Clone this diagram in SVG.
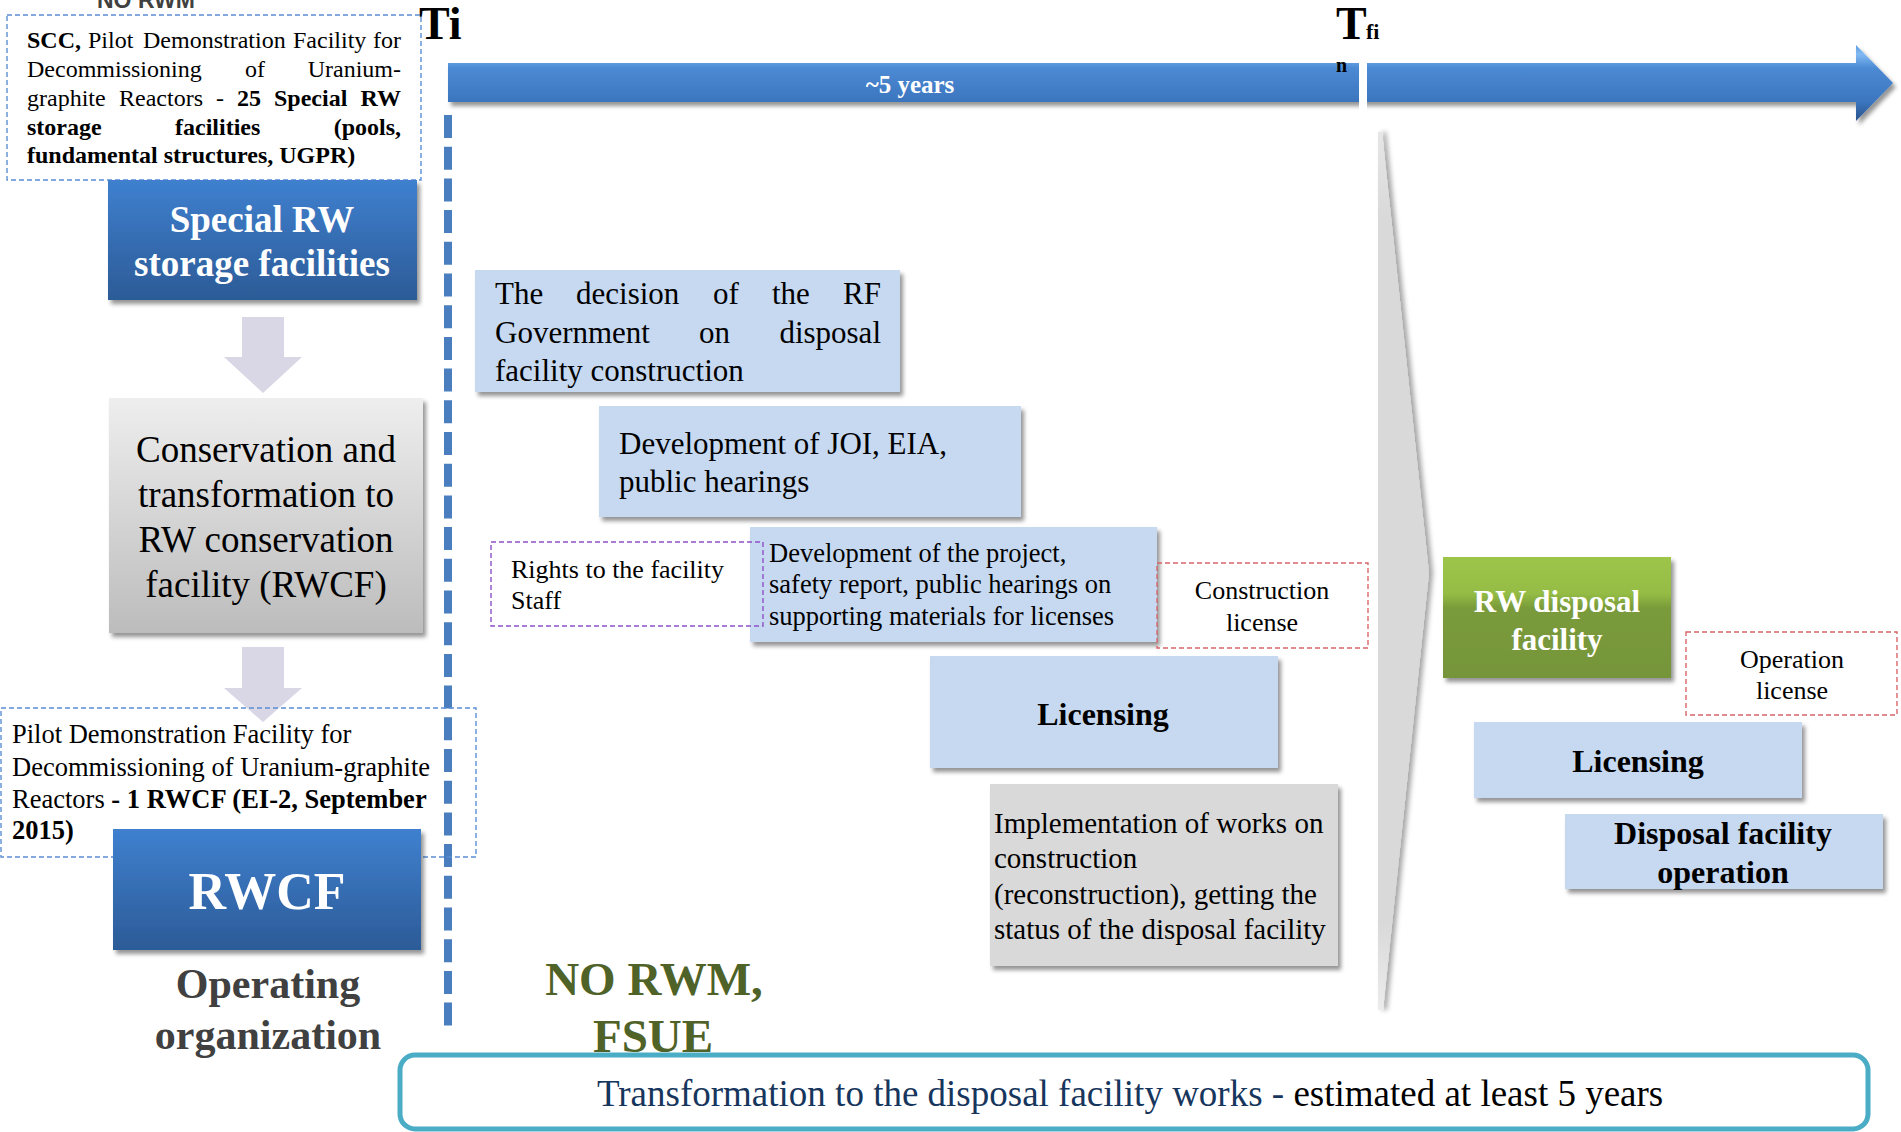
<svg xmlns="http://www.w3.org/2000/svg" width="1901" height="1132" viewBox="0 0 1901 1132">
<defs>
<style>
.s{font-family:"Liberation Serif","Times New Roman",serif}
.b{font-weight:bold}
.w{fill:#fff}
.k{fill:#000}
.c{text-anchor:middle}
.e{text-anchor:end}
.lb{fill:#c6d9f1}
.dashB{fill:none;stroke:#5b8fd6;stroke-width:1.4;stroke-dasharray:5 3}
.dashP{fill:none;stroke:#8e52c8;stroke-width:1.4;stroke-dasharray:5 3}
.dashR{fill:none;stroke:#d9666a;stroke-width:1.4;stroke-dasharray:5 3}
.darr{fill:#d9d6e6}
</style>
<linearGradient id="gBlue" x1="0" y1="0" x2="0" y2="1">
<stop offset="0" stop-color="#3f80cf"/><stop offset="1" stop-color="#2c5b97"/>
</linearGradient>
<linearGradient id="gGray" x1="0" y1="0" x2="0" y2="1">
<stop offset="0" stop-color="#eeeeee"/><stop offset="1" stop-color="#bcbcbc"/>
</linearGradient>
<linearGradient id="gGreen" x1="0" y1="0" x2="0" y2="1">
<stop offset="0" stop-color="#9dc54a"/><stop offset="0.3" stop-color="#95bd45"/><stop offset="0.42" stop-color="#7a9b3a"/><stop offset="1" stop-color="#76953a"/>
</linearGradient>
<linearGradient id="gBar" x1="0" y1="0" x2="0" y2="1">
<stop offset="0" stop-color="#5d9be0"/><stop offset="0.12" stop-color="#82baf3"/><stop offset="0.3" stop-color="#4c8ad4"/><stop offset="0.75" stop-color="#3b75be"/><stop offset="0.9" stop-color="#30609f"/><stop offset="1" stop-color="#2a548e"/>
</linearGradient>
<linearGradient id="gChev" x1="0" y1="0" x2="0" y2="1">
<stop offset="0" stop-color="#e6e6e6"/><stop offset="0.1" stop-color="#d9d9d9"/><stop offset="0.9" stop-color="#d9d9d9"/><stop offset="1" stop-color="#ececec"/>
</linearGradient>
<filter id="sh" x="-10%" y="-10%" width="130%" height="140%">
<feDropShadow dx="3" dy="4" stdDeviation="2.2" flood-color="#000" flood-opacity="0.42"/>
</filter>
<filter id="shR" x="-50%" y="-5%" width="250%" height="110%">
<feDropShadow dx="4" dy="0" stdDeviation="2.5" flood-color="#000" flood-opacity="0.35"/>
</filter>
</defs>
<rect width="1901" height="1132" fill="#fff"/>

<text class="b" x="97" y="8" font-family="Liberation Sans, Arial, sans-serif" font-size="23" fill="#404040">NO RWM</text>

<g id="timeline">
<path d="M448,63 H1856 V45 L1893,83 L1856,121 V102 H448 Z" fill="url(#gBar)" filter="url(#sh)"/>
<rect x="1359" y="56" width="8" height="56" fill="#fff"/>
<text class="s b w c" x="910" y="93" font-size="25">~5 years</text>
<text class="s b k" x="419" y="39" font-size="46">Ti</text>
<text class="s b k" x="1336" y="39" font-size="46">T</text>
<text class="s b k" x="1366" y="39" font-size="22">fi</text>
<text class="s b k" x="1336" y="72" font-size="20">n</text>
</g>

<g id="divider">
<line x1="448" y1="115" x2="448" y2="1033" stroke="#4a7ebf" stroke-width="8" stroke-dasharray="23 8.7"/>
</g>

<g id="chevron">
<polygon points="1378,132 1382,132 1429,573 1383,1010 1378,1010" fill="url(#gChev)" filter="url(#shR)"/>
</g>

<g id="connectors">
<polygon class="darr" points="242,317 284,317 284,357 302,357 263,393 224,357 242,357"/>
<polygon class="darr" points="242,647 284,647 284,688 302,688 263,722 224,688 242,688"/>
</g>

<g id="note-scc">
<rect class="dashB" x="7" y="15" width="414" height="165"/>
<text class="s" font-size="24" fill="#000">
<tspan x="27" y="48" font-weight="bold">SCC,</tspan><tspan x="88" y="48">Pilot</tspan><tspan x="143" y="48">Demonstration</tspan><tspan x="293" y="48">Facility</tspan>
<tspan x="27" y="77">Decommissioning</tspan><tspan x="245" y="77">of</tspan>
<tspan x="27" y="106">graphite</tspan><tspan x="119" y="106">Reactors</tspan><tspan x="216" y="106">-</tspan><tspan x="237" y="106" font-weight="bold">25</tspan><tspan x="274" y="106" font-weight="bold">Special</tspan>
<tspan x="27" y="135" font-weight="bold">storage</tspan><tspan x="175" y="135" font-weight="bold">facilities</tspan>
<tspan x="27" y="163" font-weight="bold">fundamental structures, UGPR)</tspan>
</text>
<text class="s e" font-size="24" fill="#000"><tspan x="401" y="48">for</tspan><tspan x="401" y="77">Uranium-</tspan><tspan x="401" y="106" font-weight="bold">RW</tspan><tspan x="401" y="135" font-weight="bold">(pools,</tspan></text>
</g>

<g id="special-rw">
<rect x="108" y="180" width="309" height="120" fill="url(#gBlue)" filter="url(#sh)"/>
<text class="s b w c" font-size="37"><tspan x="262" y="232">Special RW</tspan><tspan x="262" y="276">storage facilities</tspan></text>
</g>

<g id="conservation">
<rect x="109" y="398" width="314" height="235" fill="url(#gGray)" filter="url(#sh)"/>
<text class="s k c" font-size="37"><tspan x="266" y="462">Conservation and</tspan><tspan x="266" y="507">transformation to</tspan><tspan x="266" y="552">RW conservation</tspan><tspan x="266" y="597">facility (RWCF)</tspan></text>
</g>

<g id="note-pilot">
<rect class="dashB" x="1" y="708" width="475" height="149"/>
<text class="s k" font-size="26.5"><tspan x="12" y="743">Pilot Demonstration Facility for</tspan><tspan x="12" y="776">Decommissioning of Uranium-graphite</tspan><tspan x="12" y="808">Reactors<tspan font-weight="bold"> - 1 RWCF (EI-2, September</tspan></tspan><tspan x="12" y="839" font-weight="bold">2015)</tspan></text>
</g>

<g id="rwcf">
<rect x="113" y="829" width="308" height="121" fill="url(#gBlue)" filter="url(#sh)"/>
<text class="s b w c" x="267" y="909" font-size="52">RWCF</text>
</g>

<g id="operating-org">
<text class="s b c" font-size="42" fill="#404040"><tspan x="268" y="998">Operating</tspan><tspan x="268" y="1049">organization</tspan></text>
</g>

<g id="decision">
<rect class="lb" x="475" y="270" width="425" height="122" filter="url(#sh)"/>
<text class="s k" font-size="31"><tspan x="495" y="304">The</tspan><tspan x="576" y="304">decision</tspan><tspan x="713" y="304">of</tspan><tspan x="772" y="304">the</tspan><tspan x="495" y="343">Government</tspan><tspan x="699" y="343">on</tspan><tspan x="495" y="381">facility construction</tspan></text>
<text class="s k e" font-size="31"><tspan x="881" y="304">RF</tspan><tspan x="881" y="343">disposal</tspan></text>
</g>

<g id="joi">
<rect class="lb" x="599" y="406" width="422" height="111" filter="url(#sh)"/>
<text class="s k" font-size="31"><tspan x="619" y="454">Development of JOI, EIA,</tspan><tspan x="619" y="492">public hearings</tspan></text>
</g>

<g id="project">
<rect class="lb" x="750" y="527" width="407" height="115" filter="url(#sh)"/>
<text class="s k" font-size="26.5"><tspan x="769" y="562">Development of the project,</tspan><tspan x="769" y="593">safety report, public hearings on</tspan><tspan x="769" y="625">supporting materials for licenses</tspan></text>
</g>

<g id="rights">
<rect class="dashP" x="491" y="542" width="272" height="84"/>
<text class="s k" font-size="26"><tspan x="511" y="578">Rights to the facility</tspan><tspan x="511" y="609">Staff</tspan></text>
</g>

<g id="construction-license">
<rect class="dashR" x="1157" y="563" width="211" height="85"/>
<text class="s k c" font-size="26"><tspan x="1262" y="599">Construction</tspan><tspan x="1262" y="631">license</tspan></text>
</g>

<g id="licensing-1">
<rect class="lb" x="930" y="656" width="348" height="112" filter="url(#sh)"/>
<text class="s b k c" x="1103" y="725" font-size="32">Licensing</text>
</g>

<g id="implementation">
<rect x="990" y="784" width="348" height="182" fill="#d9d9d9" filter="url(#sh)"/>
<text class="s k" font-size="29"><tspan x="994" y="833">Implementation of works on</tspan><tspan x="994" y="868">construction</tspan><tspan x="994" y="904">(reconstruction), getting the</tspan><tspan x="994" y="939">status of the disposal facility</tspan></text>
</g>

<g id="no-rwm">
<text class="s b c" font-size="47" fill="#4f6228"><tspan x="654" y="995">NO RWM,</tspan><tspan x="653" y="1052">FSUE</tspan></text>
</g>

<g id="rw-disposal">
<rect x="1443" y="557" width="228" height="121" fill="url(#gGreen)" filter="url(#sh)"/>
<text class="s b w c" font-size="31"><tspan x="1557" y="612">RW disposal</tspan><tspan x="1557" y="650">facility</tspan></text>
</g>

<g id="operation-license">
<rect class="dashR" x="1686" y="632" width="211" height="83"/>
<text class="s k c" font-size="26"><tspan x="1792" y="668">Operation</tspan><tspan x="1792" y="699">license</tspan></text>
</g>

<g id="licensing-2">
<rect class="lb" x="1474" y="722" width="328" height="76" filter="url(#sh)"/>
<text class="s b k c" x="1638" y="772" font-size="32">Licensing</text>
</g>

<g id="operation">
<rect class="lb" x="1565" y="814" width="318" height="75" filter="url(#sh)"/>
<text class="s b k c" font-size="32"><tspan x="1723" y="844">Disposal facility</tspan><tspan x="1723" y="883">operation</tspan></text>
</g>

<g id="summary">
<rect x="400" y="1055" width="1468" height="74" rx="15" fill="#fff" stroke="#4bacc6" stroke-width="5"/>
<text class="s" x="597" y="1106" font-size="37" fill="#000"><tspan fill="#17365d">Transformation to the disposal facility works - </tspan>estimated at least 5 years</text>
</g>
</svg>
